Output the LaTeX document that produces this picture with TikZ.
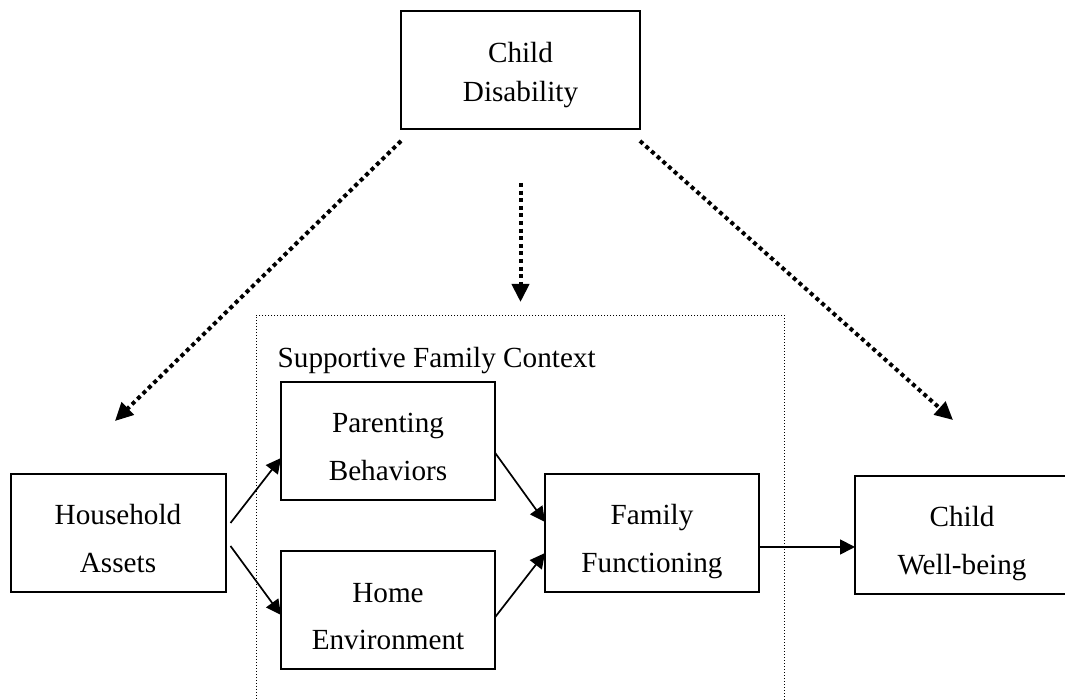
\documentclass[tikz,border=0pt]{standalone}
\usepackage{fontspec}
\setmainfont{Liberation Serif}
\usetikzlibrary{arrows.meta}
\begin{document}
\begin{tikzpicture}[x=1pt,y=1pt,
  box/.style={draw, line width=2pt, minimum width=214pt, minimum height=118pt, inner sep=0pt, outer sep=0pt},
  lbl/.style={font=\fontsize{29.2}{35}\selectfont, inner sep=0pt, anchor=base},
  link/.style={line width=1.7pt, -{Triangle[length=15pt,width=15pt]}},
  influence/.style={line width=4pt, dash pattern=on 4pt off 3.6pt, -{Triangle[length=18pt,width=17pt]}},
  frame/.style={draw, line width=0.9pt, dash pattern=on 1pt off 2pt, inner sep=0pt, outer sep=0pt}]
\useasboundingbox (0,0) rectangle (1065,700);

% boxes
\node[box, minimum width=239pt] (cd) at (520.5,630) {};
\node[box, minimum width=215pt] (hh) at (118,167) {};
\node[box] (pb) at (388,259.3) {};
\node[box] (he) at (388,89.7) {};
\node[box] (ff) at (652,167) {};
\node[box] (wb) at (962,165) {};

% dotted frame of the family context
\node[frame, minimum width=528pt, minimum height=400pt, anchor=north west] (ctx) at (256,385) {};
\node[lbl, anchor=base west] (ctxlbl) at (277.5,332) {Supportive Family Context};

% box labels
\node[lbl] (cd1) at ([yshift=7.3pt]cd.center) {Child};
\node[lbl] (cd2) at ([yshift=-31.7pt]cd.center) {Disability};
\node[lbl] (hh1) at ([yshift=8pt]hh.center) {Household};
\node[lbl] (hh2) at ([yshift=-39.6pt]hh.center) {Assets};
\node[lbl] (pb1) at ([yshift=8pt]pb.center) {Parenting};
\node[lbl] (pb2) at ([yshift=-39.6pt]pb.center) {Behaviors};
\node[lbl] (he1) at ([yshift=8pt]he.center) {Home};
\node[lbl] (he2) at ([yshift=-39.6pt]he.center) {Environment};
\node[lbl] (ff1) at ([yshift=8.5pt]ff.center) {Family};
\node[lbl] (ff2) at ([yshift=-39.6pt]ff.center) {Functioning};
\node[lbl] (wb1) at ([yshift=8.3pt]wb.center) {Child};
\node[lbl] (wb2) at ([yshift=-40pt]wb.center) {Well-being};

% solid paths
\draw[link] ([xshift=5pt,yshift=10pt]hh.east) -- ([yshift=-17.3pt]pb.west);
\draw[link] ([xshift=5pt,yshift=-13pt]hh.east) -- ([yshift=-4.7pt]he.west);
\draw[link] ([yshift=-12pt]pb.east) -- ([yshift=11pt]ff.west);
\draw[link] ([yshift=-7pt]he.east) -- ([yshift=-20pt]ff.west);
\draw[link] ([yshift=-14pt]ff.east) -- ([yshift=-12pt]wb.west);

% dotted influences of child disability
\coordinate (midtip) at (cd.south |- ctx.north);
\draw[influence] ([yshift=-12pt]cd.south west) -- ([xshift=-3pt,yshift=53pt]hh.north);
\draw[influence] ([yshift=-54pt]cd.south) -- ([yshift=13pt]midtip);
\draw[influence] ([yshift=-12pt]cd.south east) -- ([xshift=-9pt,yshift=56pt]wb.north);
\end{tikzpicture}
\end{document}
